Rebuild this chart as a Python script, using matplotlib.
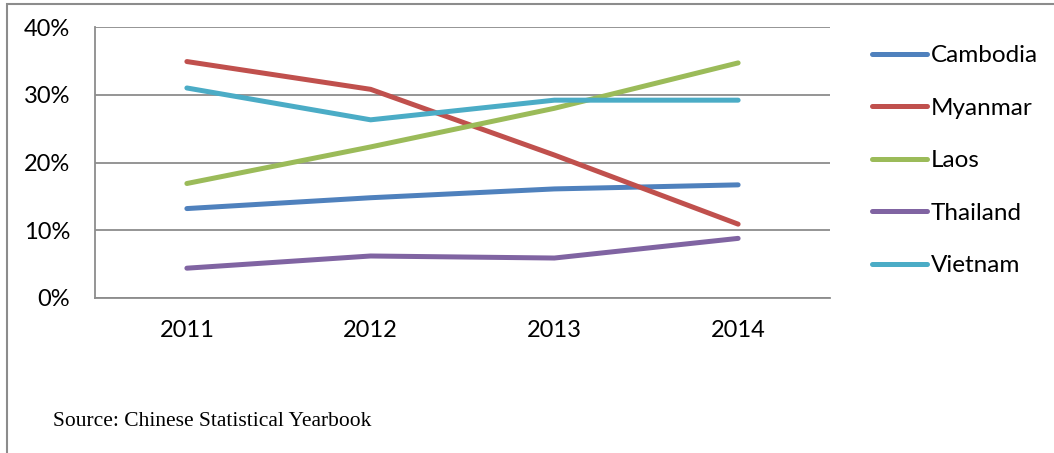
import matplotlib
matplotlib.use("Agg")
import matplotlib.pyplot as plt
from matplotlib.patches import Rectangle
from matplotlib.ticker import PercentFormatter

# --- Data --------------------------------------------------------------------

years = ["2011", "2012", "2013", "2014"]
cambodia = [13.2, 14.8, 16.1, 16.7]
myanmar = [34.9, 30.8, 21.1, 10.9]
laos = [16.9, 22.3, 28.0, 34.7]
thailand = [4.4, 6.2, 5.9, 8.8]
vietnam = [31.0, 26.3, 29.2, 29.2]

series = [
    ("Cambodia", cambodia, "#4F81BD"),
    ("Myanmar", myanmar, "#C0504D"),
    ("Laos", laos, "#9BBB59"),
    ("Thailand", thailand, "#8064A2"),
    ("Vietnam", vietnam, "#4BACC6"),
]

plt.rcParams["font.family"] = ["Lato", "DejaVu Sans"]

W, H = 1054, 453
fig = plt.figure(figsize=(W / 100, H / 100), dpi=100)

# outer frame of the chart area
fig.add_artist(Rectangle((7 / W, -0.05), 1.2, (H - 4) / H + 0.05,
                         transform=fig.transFigure, fill=False,
                         edgecolor="#8c8c8c", linewidth=1.5))

# axes box in pixels: left 95, right 830, top 27, bottom 298
ax = fig.add_axes([95 / W, 1 - 298 / H, (830 - 95) / W, (298 - 27) / H])

x = range(len(years))
for name, vals, color in series:
    ax.plot(x, vals, color=color, linewidth=3.6, solid_capstyle="round",
            label=name)

ax.set_xlim(-0.5, 3.5)
ax.set_ylim(0, 40)
ax.set_yticks([0, 10, 20, 30, 40])
ax.yaxis.set_major_formatter(PercentFormatter(decimals=0))
ax.set_xticks(list(x))
ax.set_xticklabels(years)
ax.tick_params(axis="both", length=0, labelsize=17, colors="black")
ax.tick_params(axis="y", pad=18)
ax.tick_params(axis="x", pad=16)

ax.yaxis.grid(True, color="#8c8c8c", linewidth=1.3)
ax.set_axisbelow(True)
for side in ["top", "right"]:
    ax.spines[side].set_visible(False)
for side in ["left", "bottom"]:
    ax.spines[side].set_color("#8c8c8c")
    ax.spines[side].set_linewidth(1.3)

ax.legend(loc="upper left", bbox_to_anchor=(872 / W, 1 - 45 / H),
          bbox_transform=fig.transFigure, frameon=False, fontsize=17.5,
          handlelength=2.26, handletextpad=0.16, labelspacing=1.3,
          borderaxespad=0, borderpad=0)

fig.text(53 / W, 1 - 422 / H, "Source: Chinese Statistical Yearbook",
         family="Liberation Serif", fontsize=15.5, va="center", ha="left")

fig.savefig("out.png", dpi=100)
